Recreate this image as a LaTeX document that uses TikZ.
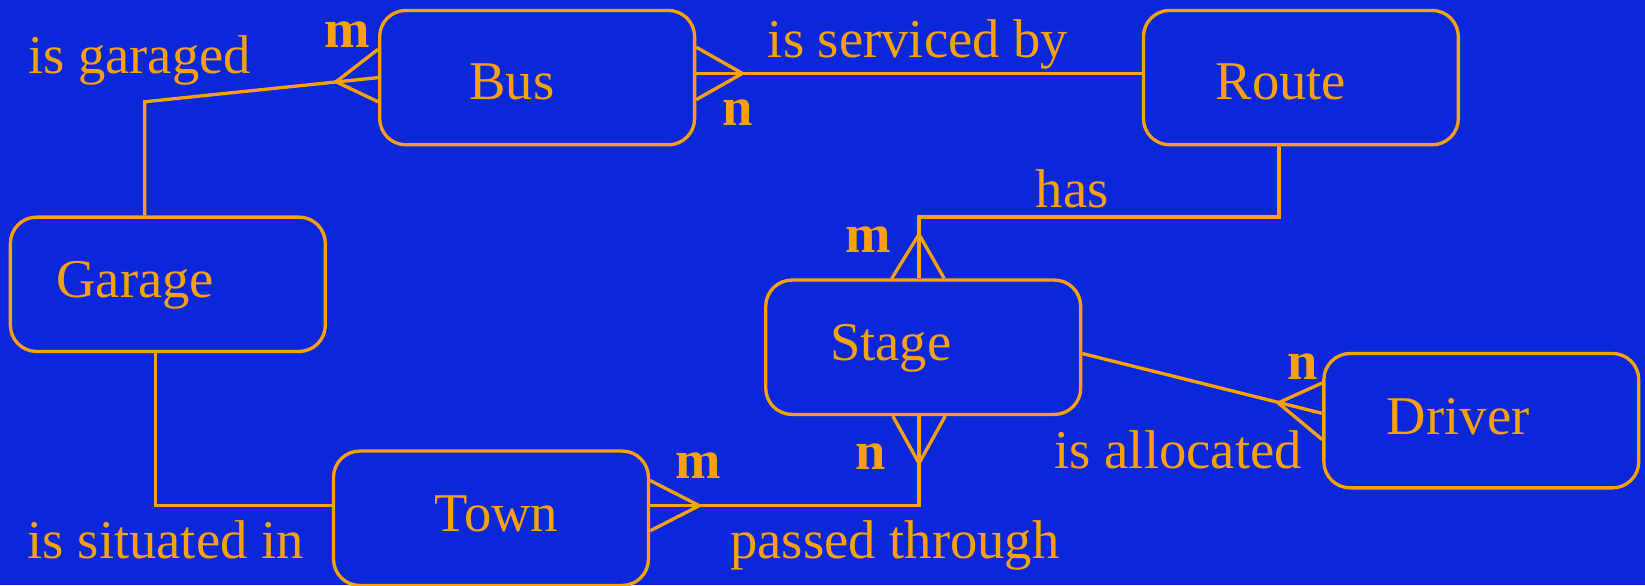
\documentclass[tikz,border=0pt]{standalone}
\usepackage{fontspec}
\setmainfont{Liberation Serif}
\usetikzlibrary{calc,positioning}
\definecolor{bgblue}{RGB}{10,40,218}
\definecolor{ink}{RGB}{250,160,10}
\tikzset{
  entity/.style={draw=ink, line width=0.9pt, rounded corners=0.25cm,
    minimum width=3cm, minimum height=1.28cm, inner sep=0pt},
  link/.style={draw=ink, line width=0.9pt},
  rel/.style={text=ink, font=\fontsize{14.8}{17}\selectfont, inner sep=0pt,
    text height=0.36cm, text depth=0.1cm},
  card/.style={rel, font=\fontsize{14.8}{17}\selectfont\bfseries},
}
\begin{document}
\begin{tikzpicture}[x=0.01cm, y=-0.01cm]
  \fill[bgblue] (0,0) rectangle (1568,558);
  \useasboundingbox (0,0) rectangle (1568,558);

  % entities
  \node[entity, label={[rel, xshift=-0.24cm, yshift=-0.08cm]center:Bus}] (bus) at (512,74) {};
  \node[entity, label={[rel, xshift=-0.19cm, yshift=-0.08cm]center:Route}] (route) at (1240,74) {};
  \node[entity, label={[rel, xshift=-0.31cm]center:Garage}] (garage) at (160,271) {};
  \node[entity, label={[rel, xshift=-0.31cm]center:Stage}] (stage) at (880,331) {};
  \node[entity, label={[rel, xshift=-0.22cm]center:Driver}] (driver) at (1412,401) {};
  \node[entity, label={[rel, xshift=0.05cm]center:Town}] (town) at (468,494) {};

  % bend points
  \coordinate (gb) at (138,97);
  \coordinate (br1) at ($(bus.east)+(0,-4)$);
  \coordinate (br2) at ($(route.west)+(0,-4)$);
  \coordinate (rs1) at (1219,207);
  \coordinate (rs2) at (876,207);
  \coordinate (st) at (876,482);
  \coordinate (gt) at (148,482);
  \coordinate (sd) at ($(stage.east)+(0,6)$);
  \coordinate (dv) at ($(driver.west)+(0,-7)$);

  % relationships
  \draw[link] (garage.north -| gb) -- (gb) -- (bus.west);
  \draw[link] ($(bus.west)+(0,-27)$) -- ($(bus.west)+(-40,4)$) -- ($(bus.west)+(0,23)$);

  \draw[link] (br1) -- (br2);
  \draw[link] ($(br1)+(0,-25)$) -- ($(br1)+(44,0)$) -- ($(br1)+(0,25)$);

  \draw[link] (route.south -| rs1) -- (rs1) -- (rs2) -- (stage.north -| rs2);
  \draw[link] ($(stage.north -| rs2)+(-26,0)$) -- ($(stage.north -| rs2)+(0,-42)$) -- ($(stage.north -| rs2)+(24,0)$);

  \draw[link] (stage.south -| st) -- (st) -- (town.east |- st);
  \draw[link] ($(stage.south -| st)+(-25,0)$) -- ($(stage.south -| st)+(0,45)$) -- ($(stage.south -| st)+(25,0)$);
  \draw[link] ($(town.east |- st)+(0,-24)$) -- ($(town.east |- st)+(47,0)$) -- ($(town.east |- st)+(0,24)$);

  \draw[link] (garage.south -| gt) -- (gt) -- (town.west |- gt);

  \draw[link] (sd) -- (dv);
  \draw[link] ($(dv)+(0,-29)$) -- ($(dv)+(-42,-10)$) -- ($(dv)+(0,25)$);

  % labels
  \node[rel, anchor=base] (lgaraged) at (133,70) {is garaged};
  \node[card, anchor=base] (mbus) at (331,45) {m};
  \node[rel, anchor=base] (lserviced) at (875,55) {is serviced by};
  \node[card, anchor=base] (nbus) at (703,120) {n};
  \node[rel, anchor=base] (lhas) at (1022,198) {has};
  \node[card, anchor=base] (mstage) at (828,241) {m};
  \node[card, anchor=base] (ndriver) at (1242,362) {n};
  \node[rel, anchor=base] (lallocated) at (1123,447) {is allocated};
  \node[card, anchor=base] (nstage) at (830,448) {n};
  \node[card, anchor=base] (mtown) at (666,456) {m};
  \node[rel, anchor=base] (lpassed) at (853,532) {passed through};
  \node[rel, anchor=base] (lsituated) at (158,532) {is situated in};
\end{tikzpicture}
\end{document}
